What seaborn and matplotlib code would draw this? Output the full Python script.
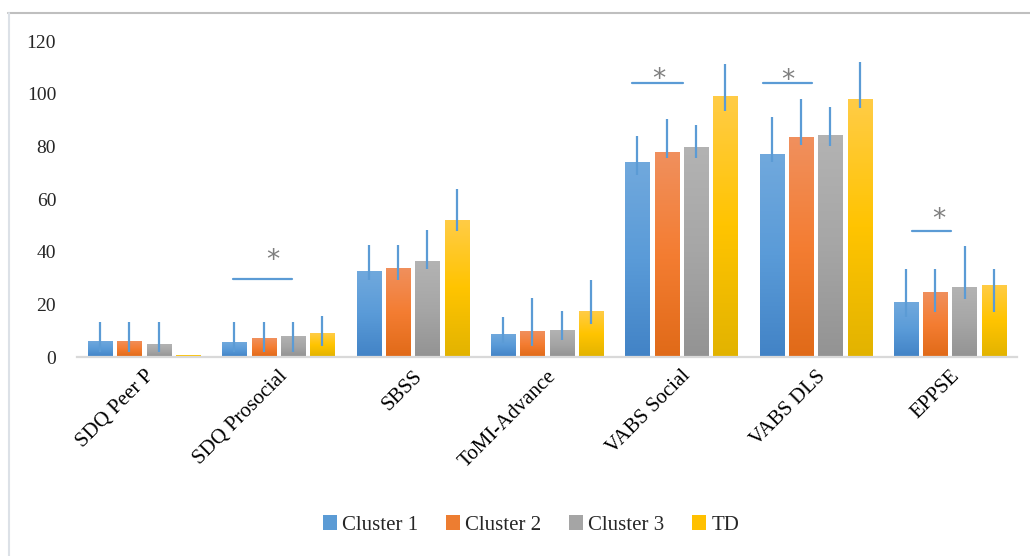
import numpy as np
import pandas as pd
import seaborn as sns
import matplotlib.pyplot as plt
from matplotlib.colors import LinearSegmentedColormap
from matplotlib.lines import Line2D
from matplotlib.patches import Patch

categorias = ["SDQ Peer P", "SDQ Prosocial", "SBSS", "ToMI-Advance",
              "VABS Social", "VABS DLS", "EPPSE"]
grupos = ["Cluster 1", "Cluster 2", "Cluster 3", "TD"]

cluster1 = [6.2, 5.6, 32.7, 8.8, 74.1, 77.1, 20.7]
cluster2 = [6.1, 7.1, 33.8, 9.7, 77.9, 83.5, 24.7]
cluster3 = [4.9, 8.1, 36.3, 10.2, 79.7, 84.4, 26.5]
td = [0.8, 9.0, 52.1, 17.4, 99.3, 98.0, 27.5]

# extremos de las barras de error (no son simetricas)
c1_lo = [2.0, 2.0, 29.1, 5.4, 69.1, 73.9, 15.3]
c1_hi = [13.4, 13.4, 42.4, 15.3, 84.0, 91.0, 33.6]
c2_lo = [2.0, 2.0, 29.1, 4.2, 75.4, 80.6, 17.2]
c2_hi = [13.4, 13.4, 42.4, 22.3, 90.2, 97.8, 33.6]
c3_lo = [2.0, 2.0, 33.3, 6.4, 75.4, 80.1, 22.0]
c3_hi = [13.4, 13.4, 48.1, 17.5, 88.2, 95.0, 42.3]
td_lo = [np.nan, 4.3, 47.8, 12.7, 93.5, 94.7, 17.2]
td_hi = [np.nan, 15.5, 63.8, 29.4, 111.4, 112.2, 33.6]

# diferencias significativas: categoria, inicio, fin, altura linea, pos asterisco
sig_cat = ["SDQ Prosocial", "VABS Social", "VABS DLS", "EPPSE"]
sig_x0 = [-0.34, -0.37, -0.39, -0.28]
sig_x1 = [0.10, 0.01, -0.03, 0.01]
sig_y = [29.5, 104.1, 104.1, 48.0]
ast_x = [-0.04, -0.17, -0.21, -0.08]
ast_y = [39.4, 108.0, 107.9, 55.0]

valores = [cluster1, cluster2, cluster3, td]
lows = [c1_lo, c2_lo, c3_lo, td_lo]
highs = [c1_hi, c2_hi, c3_hi, td_hi]

colores = ["#5B9BD5", "#ED7D31", "#A5A5A5", "#FFC000"]
degradados = [
    ["#4283C6", "#5A9BD8", "#71A9DD"],
    ["#E06A18", "#F47D32", "#F0905E"],
    ["#939393", "#A6A6A6", "#B3B3B3"],
    ["#E2B300", "#FFC400", "#FFCC47"],
]

df = pd.DataFrame({
    "Medida": categorias * 4,
    "Puntaje": sum(valores, []),
    "Grupo": [g for g in grupos for _ in categorias],
})

sns.set_theme(style="white")
plt.rcParams["font.family"] = ["Liberation Serif", "DejaVu Serif"]

fig = plt.figure(figsize=(10.30, 5.56), dpi=100)
ax = fig.add_axes([77 / 1030, 1 - 357 / 556, 940 / 1030, (357 - 41) / 556])

sns.barplot(data=df, x="Medida", y="Puntaje", hue="Grupo", order=categorias,
            hue_order=grupos, palette=colores, width=0.873, gap=0.18,
            errorbar=None, legend=False, ax=ax, zorder=2)

grad = np.linspace(1, 0, 256).reshape(-1, 1)
for cont, cols, lo, hi in zip(ax.containers, degradados, lows, highs):
    cmap = LinearSegmentedColormap.from_list("g", cols)
    for j, bar in enumerate(cont):
        x0, y0 = bar.get_xy()
        w, h = bar.get_width(), bar.get_height()
        im = ax.imshow(grad, extent=[x0, x0 + w, y0, y0 + h], aspect="auto",
                       cmap=cmap, vmin=0, vmax=1, origin="upper", zorder=2)
        im.set_clip_path(bar)
        bar.set_facecolor("none")
        bar.set_edgecolor("none")
        if not np.isnan(lo[j]):
            xc = x0 + w / 2
            ax.plot([xc, xc], [lo[j], hi[j]], color="#5B9BD5", lw=1.6,
                    solid_capstyle="butt", zorder=3)

for c, a, b, y, xa, ya in zip(sig_cat, sig_x0, sig_x1, sig_y, ast_x, ast_y):
    i = categorias.index(c)
    ax.plot([i + a, i + b], [y, y], color="#5B9BD5", lw=1.6, zorder=3)
    # el asterisco de DejaVu queda alto respecto a la linea base
    ax.text(i + xa, ya - 5.6, "*", ha="center", va="baseline", fontsize=19,
            color="#7F7F7F", family="DejaVu Sans")

ax.set_xlim(-0.5, len(categorias) - 0.5)
ax.set_ylim(0, 120)
ax.set_yticks(range(0, 121, 20))
ax.set_xlabel("")
ax.set_ylabel("")
for s in ["top", "right", "left"]:
    ax.spines[s].set_visible(False)
ax.spines["bottom"].set_color("#D9D9D9")
ax.spines["bottom"].set_linewidth(1.6)
ax.tick_params(axis="y", length=0, pad=15, labelsize=14, labelcolor="#262626")
ax.tick_params(axis="x", length=0, pad=7, labelsize=15, labelcolor="black")
plt.setp(ax.get_xticklabels(), rotation=45, ha="right", rotation_mode="anchor")

handles = [Patch(facecolor=c, edgecolor="none") for c in colores]
fig.legend(handles, grupos, loc="center", bbox_to_anchor=(531 / 1030, 1 - 525 / 556),
           ncol=4, frameon=False, fontsize=15, handlelength=0.7, handleheight=0.7,
           handletextpad=0.25, columnspacing=1.3)

# marco del grafico
fig.add_artist(Line2D([8 / 1030, 1], [1 - 13 / 556, 1 - 13 / 556],
                      transform=fig.transFigure, color="#BFBFBF", lw=1.5))
fig.add_artist(Line2D([9 / 1030, 9 / 1030], [0, 1 - 13 / 556],
                      transform=fig.transFigure, color="#DCE1E7", lw=1.5))

fig.savefig("out.png", dpi=100, facecolor="white")
